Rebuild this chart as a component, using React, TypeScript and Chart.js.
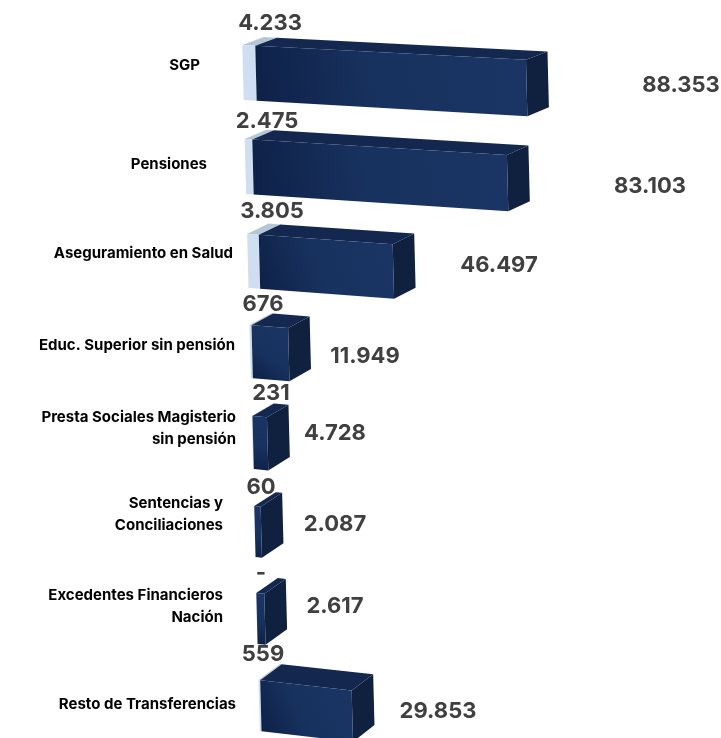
import React, { useEffect, useRef } from "react";
import { Chart, registerables } from "chart.js";

Chart.register(...registerables);

const categories: (string | string[])[] = [
  "SGP",
  "Pensiones",
  "Aseguramiento en Salud",
  "Educ. Superior sin pensión",
  ["Presta Sociales Magisterio", "sin pensión"],
  ["Sentencias y", "Conciliaciones"],
  ["Excedentes Financieros", "Nación"],
  "Resto de Transferencias",
];
const smallValues = [4233, 2475, 3805, 676, 231, 60, 0, 559];
const mainValues = [88353, 83103, 46497, 11949, 4728, 2087, 2617, 29853];

// Layout tweaks imitating the stretched perspective picture (not data)
const rowNudge = [0, 3.6, 7.6, 7.7, 8.3, 6.9, 3.4, 0];
const rowHeights = [55, 55, 54, 53, 53, 51, 51, 51];
const rowStretch = [1, 1, 0.94, 1, 1, 1, 1, 1];
const catRight = [200, 207, 233, 235, 236, 223, 223, 236];
const catDy = [-7.5, -2.5, -7, -6.5, -14.5, -17.5, -11.5, -1.5];
const topDx = [27, 24, 29, 20, 28, 18, 18, 20];
const topDy = [-49.5, -45.5, -50, -47.5, -49.5, -44.5, -45.5, -51.5];
const endDx = [154.3, 144.8, 101.9, 83.3, 76.8, 85.4, 84, 101.8];
const endDy = [12.5, 19.5, 4, 4.5, -9.5, -7.5, -12.5, 5.5];

const fmt = (v: number) =>
  v === 0 ? "-" : String(v).replace(/\B(?=(\d{3})+$)/g, ".");

const VALUE_FONT = "700 22px Inter";
const CAT_FONT = "700 15px Inter";

type P = [number, number];

const bars3d = {
  id: "bars3d",
  afterDatasetsDraw(chart: any) {
    const { ctx, chartArea } = chart;
    const left = chartArea.left;
    const y0 = chartArea.top;
    const lightMeta = chart.getDatasetMeta(0).data;
    const mainMeta = chart.getDatasetMeta(1).data;
    const shear = 0.0255;
    const slope = (y: number) => 0.052 + ((y - 45) * 0.06) / 635;
    const quad = (pts: P[], fill: any) => {
      ctx.beginPath();
      pts.forEach((p, i) => (i ? ctx.lineTo(p[0], p[1]) : ctx.moveTo(p[0], p[1])));
      ctx.closePath();
      ctx.fillStyle = fill;
      ctx.fill();
    };
    ctx.save();
    categories.forEach((_, i) => {
      const light = lightMeta[i];
      const main = mainMeta[i];
      const cy = main.y + rowNudge[i];
      const h = rowHeights[i];
      const yTop = cy - h / 2;
      const yBot = cy + h / 2;
      const project = (x: number, y: number): P => [
        x + shear * (y - y0),
        y + slope(y) * (x - left),
      ];
      const depth = (p: P): P => [
        p[0] + 21.5,
        p[1] - (8 + ((p[1] - 45) * 8) / 635),
      ];
      const xA = light.base;
      const xB = light.x;
      const xC = xB + (main.x - xB) * rowStretch[i];
      const a = project(xA, yTop);
      const b = project(xB, yTop);
      const c = project(xC, yTop);
      const aB = project(xA, yBot);
      const bB = project(xB, yBot);
      const cB = project(xC, yBot);

      if (smallValues[i] > 0) {
        quad([a, b, depth(b), depth(a)], "#b5c6d8");
        quad([a, b, bB, aB], "#cfdff1");
      }
      quad([b, c, depth(c), depth(b)], "#14284f");
      quad([c, cB, depth(cB), depth(c)], "#10213f");
      const g = ctx.createLinearGradient(bB[0], bB[1], c[0], c[1]);
      g.addColorStop(0, "#0e2148");
      g.addColorStop(0.45, "#18325f");
      g.addColorStop(1, "#1a3564");
      quad([b, c, cB, bB], g);
    });

    // texts
    ctx.fillStyle = "#000";
    ctx.font = CAT_FONT;
    ctx.textAlign = "right";
    ctx.textBaseline = "middle";
    categories.forEach((label, i) => {
      const lines = Array.isArray(label) ? label : [label];
      const cy = mainMeta[i].y + rowNudge[i] + catDy[i];
      lines.forEach((t, k) => {
        ctx.fillText(t, catRight[i], cy + (k - (lines.length - 1) / 2) * 22);
      });
    });
    ctx.fillStyle = "#404040";
    ctx.font = VALUE_FONT;
    ctx.textAlign = "center";
    categories.forEach((_, i) => {
      const cy = mainMeta[i].y + rowNudge[i];
      ctx.fillText(fmt(smallValues[i]), left + topDx[i], cy + topDy[i]);
      ctx.fillText(fmt(mainValues[i]), mainMeta[i].x + endDx[i], cy + endDy[i]);
    });
    ctx.restore();
  },
};

export default function App() {
  const ref = useRef<HTMLCanvasElement>(null);
  useEffect(() => {
    const chart = new Chart(ref.current as HTMLCanvasElement, {
      type: "bar",
      data: {
        labels: categories as any,
        datasets: [
          { label: "Menor", data: smallValues, backgroundColor: "rgba(0,0,0,0)", barThickness: 53 },
          { label: "Principal", data: mainValues, backgroundColor: "rgba(0,0,0,0)", barThickness: 53 },
        ],
      },
      options: {
        indexAxis: "y",
        responsive: false,
        animation: false,
        layout: { padding: { left: 243, right: 0, top: 72.5, bottom: 32.5 } },
        plugins: { legend: { display: false }, tooltip: { enabled: false } },
        scales: {
          x: { display: false, stacked: true, min: 0, max: 156000 },
          y: { display: false, stacked: true, offset: false, grid: { offset: false } },
        },
      },
      plugins: [bars3d],
    } as any);
    return () => chart.destroy();
  }, []);
  return (
    <div style={{ position: "absolute", left: 0, top: 0, width: 721, height: 738, overflow: "hidden", background: "#fff" }}>
      <canvas ref={ref} width={721} height={738} style={{ display: "block" }} />
    </div>
  );
}
